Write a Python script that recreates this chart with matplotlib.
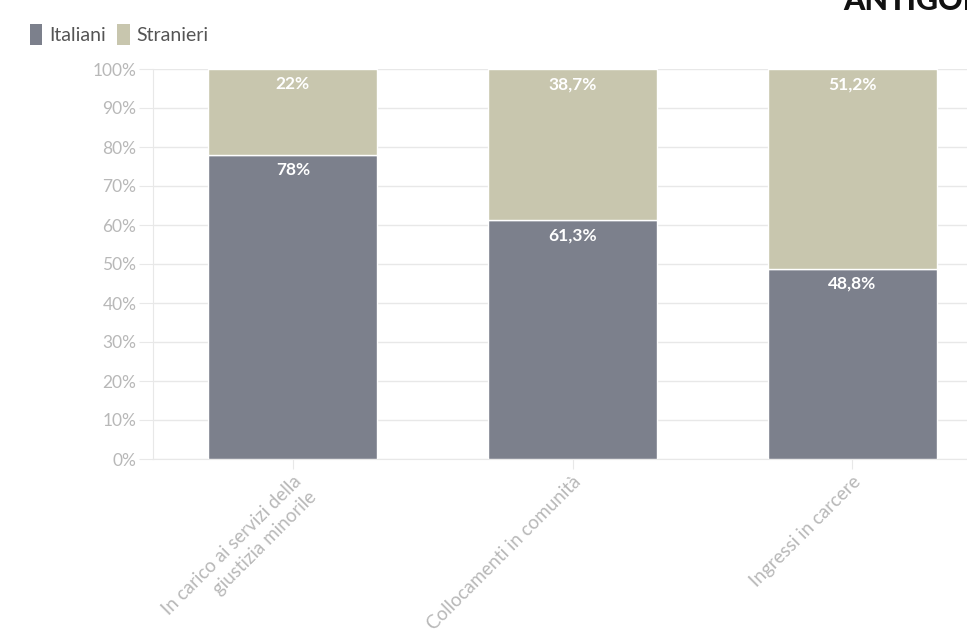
#!/usr/bin/env python
# coding: utf-8

import matplotlib
matplotlib.use('Agg')
import matplotlib.pyplot as plt
from matplotlib.patches import Patch

# data
categories = ['In carico ai servizi della\ngiustizia minorile',
              'Collocamenti in comunità',
              'Ingressi in carcere']
italiani = [78, 61.3, 48.8]
stranieri = [22, 38.7, 51.2]
series_names = ['Italiani', 'Stranieri']
y_ticks = [0, 10, 20, 30, 40, 50, 60, 70, 80, 90, 100]

col_ita = '#7c808c'
col_str = '#c8c6ae'
grid_col = '#e8e8e8'
text_col = '#b8b8b8'

plt.rcParams['font.family'] = ['Lato', 'DejaVu Sans']

fig = plt.figure(figsize=(9.67, 6.29), dpi=100)
# axes runs past the right edge of the figure: the chart is cropped there
ax = fig.add_axes([153/967, 170/629, 839/967, 390/629])

x = list(range(len(categories)))
ax.bar(x, italiani, width=0.605, color=col_ita, edgecolor='white', linewidth=1, zorder=3)
ax.bar(x, stranieri, width=0.605, bottom=italiani, color=col_str, edgecolor='white',
       linewidth=1, zorder=3)

def fmt(v):
    return '{:g}%'.format(v).replace('.', ',')

# labels at the top of each segment
for i in x:
    ax.annotate(fmt(italiani[i]), (i, italiani[i]), xytext=(0, -11), textcoords='offset points',
                ha='center', va='center', color='white', fontsize=12.5, fontweight='bold', zorder=4)
    ax.annotate(fmt(stranieri[i]), (i, 100), xytext=(0, -11), textcoords='offset points',
                ha='center', va='center', color='white', fontsize=12.5, fontweight='bold', zorder=4)

ax.set_xlim(-0.5, 2.5)
ax.set_ylim(0, 100)
ax.set_yticks(y_ticks)
ax.set_yticklabels(['{}%'.format(t) for t in y_ticks])
ax.yaxis.grid(True, color=grid_col, linewidth=1, zorder=0)
ax.tick_params(axis='y', length=10, color=grid_col, labelcolor=text_col, labelsize=12.5, pad=2)

ax.set_xticks(x)
ax.set_xticklabels(categories, rotation=45, ha='right', va='top', rotation_mode='anchor',
                   linespacing=1.3)
ax.tick_params(axis='x', length=7, color=grid_col, labelcolor=text_col, labelsize=13.5, pad=3)

for s in ['top', 'right']:
    ax.spines[s].set_visible(False)
ax.spines['left'].set_color(grid_col)
ax.spines['bottom'].set_color(grid_col)

handles = [Patch(facecolor=col_ita, edgecolor='none'), Patch(facecolor=col_str, edgecolor='none')]
fig.legend(handles, series_names, loc='upper left', bbox_to_anchor=(12/967, 1 - 6/629), ncol=2,
           frameon=False, fontsize=14, handlelength=0.65, handleheight=1.3, handletextpad=0.35,
           columnspacing=0.6, labelcolor='#555555')

# cropped logo at the top right
fig.text(843/967, 1 - 10/629, 'ANTIGONE', fontsize=22, fontweight='black', color='#111111',
         va='baseline', ha='left')

plt.savefig('out.png', dpi=100)
